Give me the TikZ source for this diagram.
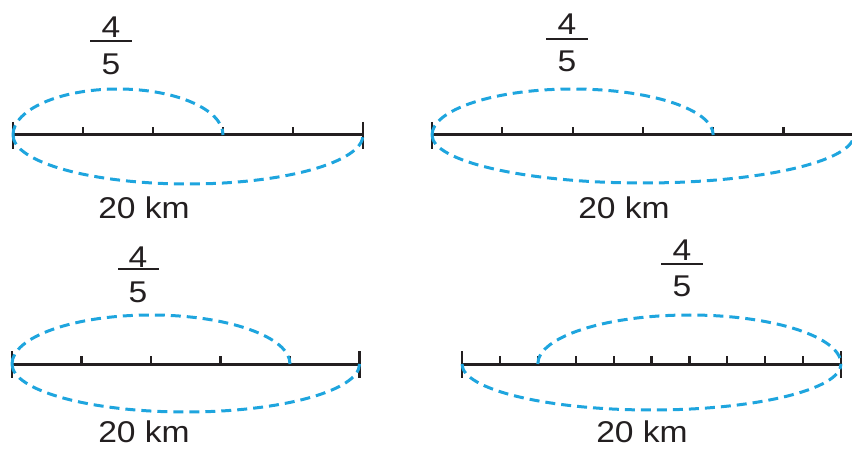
\documentclass[tikz,border=0pt]{standalone}
\usepackage{fontspec}
\setmainfont{Liberation Sans}[FakeStretch=1.12]
\definecolor{arcblue}{RGB}{30,165,222}
\definecolor{ink}{RGB}{35,31,32}
\tikzset{
  numline/.style={draw=ink,line width=3pt},
  endbar/.style={draw=ink,line width=2.8pt},
  tickmark/.style={draw=ink,line width=2.2pt},
  arcline/.style={draw=arcblue,line width=3pt,dash pattern=on 10pt off 6pt},
  lbl/.style={text=ink,inner sep=0pt,font=\fontsize{30}{33}\selectfont},
  fracbar/.style={draw=ink,line width=2.4pt}
}
\begin{document}
\begin{tikzpicture}[x=1pt,y=-1pt]
\useasboundingbox (0,0) rectangle (852,449);
\clip (0,0) rectangle (852,449);
% ---------- Panel 1 ----------
\coordinate (a1L) at (13,135);
\coordinate (a1R) at (363,135);
\coordinate (a1P) at (223,135);
\draw[numline] (a1L) -- (a1R);
\draw[endbar] (13,122) -- (13,149);
\draw[endbar] (363,122) -- (363,149);
\foreach \x in {83,153,223,293} \draw[tickmark] (\x,135) -- (\x,127);
\draw[arcline] (a1L) arc[start angle=180,end angle=360,x radius=105,y radius=46];
\draw[arcline] (a1L) arc[start angle=180,end angle=0,x radius=175,y radius=49];
\node[lbl] (f1n) at (111,27) {4};
\draw[fracbar] (90,41) -- (132,41);
\node[lbl] (f1d) at (111,64) {5};
\node[lbl] (k1) at (144,208) {20 km};
% ---------- Panel 2 ----------
\coordinate (a2L) at (432,135);
\coordinate (a2R) at (853.8,135);
\draw[numline] (a2L) -- (a2R);
\draw[endbar] (432,122) -- (432,149);
\foreach \x in {502.3,572.6,642.9,713.2,783.5} \draw[tickmark] (\x,135) -- (\x,127);
\draw[arcline] (a2L) arc[start angle=180,end angle=360,x radius=140.6,y radius=46];
\draw[arcline] (a2L) arc[start angle=180,end angle=0,x radius=210.9,y radius=48];
\node[lbl] (f2n) at (567,24) {4};
\draw[fracbar] (546,39) -- (588,39);
\node[lbl] (f2d) at (567,61) {5};
\node[lbl] (k2) at (624,208) {20 km};
% ---------- Panel 3 ----------
\coordinate (a3L) at (12,364);
\coordinate (a3R) at (359.5,364);
\draw[numline] (a3L) -- (a3R);
\draw[endbar] (12,351) -- (12,378);
\draw[endbar] (359.5,351) -- (359.5,378);
\foreach \x in {81.5,151,220.5,290} \draw[tickmark] (\x,364) -- (\x,356);
\draw[arcline] (a3L) arc[start angle=180,end angle=360,x radius=139,y radius=49];
\draw[arcline] (a3L) arc[start angle=180,end angle=0,x radius=173.75,y radius=48];
\node[lbl] (f3n) at (138,257) {4};
\draw[fracbar] (118,269) -- (159,269);
\node[lbl] (f3d) at (138,292) {5};
\node[lbl] (k3) at (144,432) {20 km};
% ---------- Panel 4 ----------
\coordinate (a4L) at (462,364);
\coordinate (a4R) at (841,364);
\coordinate (a4P) at (537.8,364);
\draw[numline] (a4L) -- (a4R);
\draw[endbar] (462,351) -- (462,378);
\draw[endbar] (841,351) -- (841,378);
\foreach \i in {1,...,9} \draw[tickmark] (462+37.9*\i,364) -- (462+37.9*\i,356);
\draw[arcline] (a4P) arc[start angle=180,end angle=360,x radius=151.6,y radius=49];
\draw[arcline] (a4L) arc[start angle=180,end angle=0,x radius=189.5,y radius=46];
\node[lbl] (f4n) at (682,250) {4};
\draw[fracbar] (661,264) -- (703,264);
\node[lbl] (f4d) at (682,286) {5};
\node[lbl] (k4) at (642,432) {20 km};
\end{tikzpicture}
\end{document}
